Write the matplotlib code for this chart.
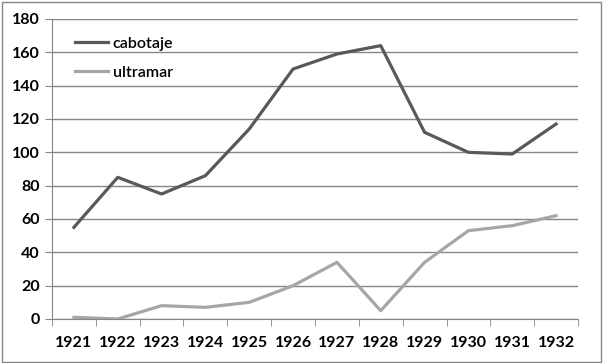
import matplotlib.pyplot as plt
import numpy as np
from matplotlib.patches import Rectangle

years = ['1921', '1922', '1923', '1924', '1925', '1926',
         '1927', '1928', '1929', '1930', '1931', '1932']
cabotaje = [55, 85, 75, 86, 114, 150, 159, 164, 112, 100, 99, 117]
ultramar = [1, 0, 8, 7, 10, 20, 34, 5, 34, 53, 56, 62]

plt.rcParams['font.family'] = ['Lato', 'DejaVu Sans']

fig = plt.figure(figsize=(6.03, 3.63), dpi=100)
ax = fig.add_axes([52 / 603, 44 / 363, 526 / 603, 300 / 363])

# outer chart frame like the spreadsheet export
fig.patches.append(Rectangle((0.004, 0.004), 0.992, 0.99, transform=fig.transFigure,
                             fill=False, edgecolor='#868686', linewidth=1))

x = np.arange(len(years))
ax.plot(x, cabotaje, color='#595959', linewidth=2.3, label='cabotaje')
ax.plot(x, ultramar, color='#a6a6a6', linewidth=2.3, label='ultramar')

ax.set_xlim(-0.5, len(years) - 0.5)
ax.set_ylim(0, 180)
ax.set_yticks(range(0, 181, 20))
ax.yaxis.grid(True, color='#868686', linewidth=1)
ax.set_axisbelow(True)

ax.set_xticks(x)
ax.set_xticklabels(years)
ax.set_xticks(np.arange(-0.5, len(years)), minor=True)
ax.tick_params(axis='x', which='major', length=0, pad=12)
ax.tick_params(axis='x', which='minor', length=5, color='#868686', direction='out')
ax.tick_params(axis='y', length=5, color='#868686', pad=4)
ax.tick_params(labelsize=11.5)
for lab in ax.get_xticklabels() + ax.get_yticklabels():
    lab.set_fontweight('bold')

for side in ['top', 'right']:
    ax.spines[side].set_visible(False)
ax.spines['left'].set_color('#868686')
ax.spines['bottom'].set_color('#868686')

ax.legend(loc='upper left', bbox_to_anchor=(0.017, 0.99), frameon=False,
          handlelength=2.05, handletextpad=0.3, labelspacing=0.95,
          prop={'size': 11.5, 'weight': 'semibold'})

plt.savefig('out.png', dpi=100)
